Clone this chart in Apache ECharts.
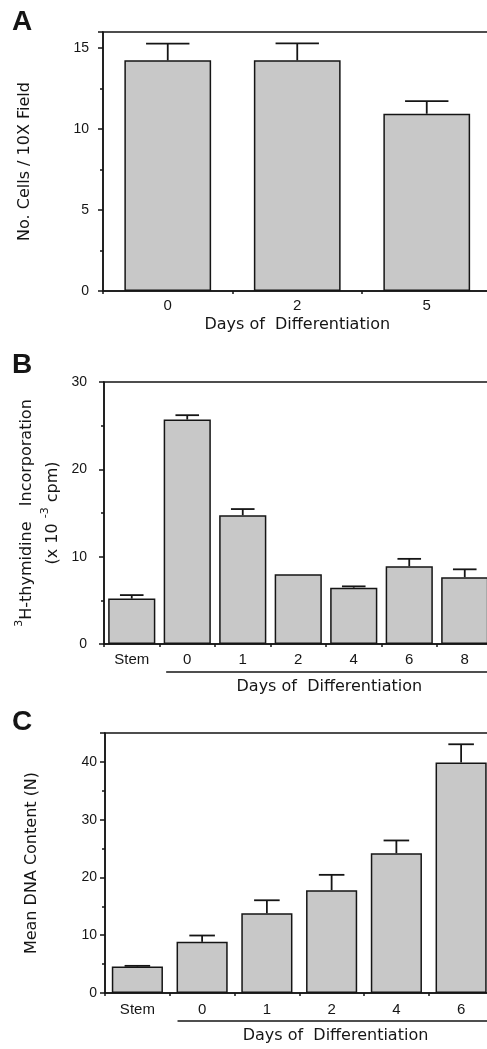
<!DOCTYPE html>
<html>
<head>
<meta charset="utf-8">
<script src="https://cdn.jsdelivr.net/npm/echarts@6/dist/echarts.min.js"></script>
<style>
html,body{margin:0;padding:0;background:#fff;}
#chart{width:487px;height:1049px;}
</style>
</head>
<body>
<div id="chart"></div>
<script>
// panel A - cell counts
var catsA = ['0', '2', '5'];
var valsA = [14.25, 14.25, 10.95];
var errA = [1.03, 1.05, 0.78];
// panel B - thymidine incorporation
var catsB = ['Stem', '0', '1', '2', '4', '6', '8'];
var valsB = [5.2, 25.7, 14.75, 8.0, 6.45, 8.9, 7.65];
var errB = [0.4, 0.5, 0.7, 0, 0.15, 0.85, 0.9];
// panel C - DNA content
var catsC = ['Stem', '0', '1', '2', '4', '6'];
var valsC = [4.6, 8.85, 13.8, 17.8, 24.2, 39.9];
var errC = [0.1, 1.1, 2.25, 2.65, 2.2, 3.15];

var ink = '#151515';
var fill = '#c8c8c8';
var tickFont = 'Liberation Sans';
var wordFont = 'DejaVu Sans';

var grids = [
  {left: 103, top: 32, width: 388.5, height: 259},
  {left: 104, top: 382, width: 388.5, height: 262},
  {left: 105, top: 733, width: 388.5, height: 260}
];
var barFrac = [0.67, 0.85, 0.79];

function xAx(idx, cats, margin) {
  return {
    type: 'category', gridIndex: idx, data: cats,
    axisLine: {lineStyle: {color: ink, width: 1.5}},
    axisTick: {show: true, length: 3, lineStyle: {color: ink, width: 1.5}},
    axisLabel: {color: ink, fontSize: 15, fontFamily: tickFont, margin: margin}
  };
}
function yAx(idx, max, interval, margin, name, nameGap) {
  return {
    type: 'value', gridIndex: idx, min: 0, max: max, interval: interval,
    name: name, nameLocation: 'middle', nameRotate: 90, nameGap: nameGap,
    nameTextStyle: {color: ink, fontSize: 16, fontFamily: wordFont},
    splitLine: {show: false},
    axisLine: {show: true, lineStyle: {color: ink, width: 1.5}},
    axisTick: {show: true, length: 5, lineStyle: {color: ink, width: 1.5}},
    minorTick: {show: true, splitNumber: 2, length: 3, lineStyle: {color: ink, width: 1.5}},
    axisLabel: {color: ink, fontSize: 14, fontFamily: tickFont, margin: margin, showMaxLabel: max % interval === 0}
  };
}
function bars(idx, vals) {
  return {
    type: 'bar', xAxisIndex: idx, yAxisIndex: idx, data: vals,
    barWidth: (barFrac[idx] * 100) + '%',
    itemStyle: {color: fill, borderColor: ink, borderWidth: 1.5},
    silent: true
  };
}
function errBars(idx, vals, errs) {
  var frac = barFrac[idx];
  return {
    type: 'custom', xAxisIndex: idx, yAxisIndex: idx, z: 5,
    data: vals.map(function (v, i) { return [i, v, errs[i]]; }),
    encode: {x: 0, y: 1},
    renderItem: function (params, api) {
      var i = api.value(0), v = api.value(1), e = api.value(2);
      if (!e) return null;
      var p0 = api.coord([i, v]);
      var p1 = api.coord([i, v + e]);
      var half = api.size([1, 0])[0] * frac * 0.25;
      var st = {stroke: ink, lineWidth: 1.8};
      return {
        type: 'group',
        children: [
          {type: 'line', shape: {x1: p0[0], y1: p0[1], x2: p1[0], y2: p1[1]}, style: st},
          {type: 'line', shape: {x1: p1[0] - half, y1: p1[1], x2: p1[0] + half, y2: p1[1]}, style: st}
        ]
      };
    }
  };
}
function letter(t, top) {
  return {text: t, left: 12, top: top, padding: 0,
    textStyle: {fontSize: 28, fontWeight: 'bold', color: ink, fontFamily: 'Liberation Sans'}};
}

var myChart = echarts.init(document.getElementById('chart'));
var yA = yAx(0, 16, 5, 14, 'No. Cells / 10X Field', 70);
var yB = yAx(1, 30, 10, 17, '{s|3}{t|H-thymidine   Incorporation}\n{t|(x 10 }{s|-3}{t| cpm)}', 35);
yB.nameTextStyle.rich = {
  t: {fontSize: 16, fontFamily: wordFont, color: ink, lineHeight: 26},
  s: {fontSize: 11, fontFamily: wordFont, color: ink, lineHeight: 26, verticalAlign: 'top'}
};
var yC = yAx(2, 45, 10, 8, 'Mean DNA Content (N)', 65);
var xA = xAx(0, catsA, 7);
xA.name = 'Days of  Differentiation';
xA.nameLocation = 'middle';
xA.nameGap = 26;
xA.nameTextStyle = {color: ink, fontSize: 16, fontFamily: wordFont};

var option = {
  backgroundColor: '#fff',
  animation: false,
  title: [letter('A', 8), letter('B', 351), letter('C', 708)],
  grid: grids.map(function (g) {
    return Object.assign({show: true, borderColor: ink, borderWidth: 1.5, containLabel: false, outerBoundsMode: 'none'}, g);
  }),
  xAxis: [xA, xAx(1, catsB, 8), xAx(2, catsC, 9)],
  yAxis: [yA, yB, yC],
  series: [
    bars(0, valsA), errBars(0, valsA, errA),
    bars(1, valsB), errBars(1, valsB, errB),
    bars(2, valsC), errBars(2, valsC, errC)
  ]
};
myChart.setOption(option);

// underline + "Days of Differentiation" under the day categories of B and C
var extra = [];
[1, 2].forEach(function (gi) {
  var band = myChart.convertToPixel({gridIndex: gi}, [2, 0])[0] - myChart.convertToPixel({gridIndex: gi}, [1, 0])[0];
  var p = myChart.convertToPixel({gridIndex: gi}, [1, 0]);
  var x0 = p[0] - band * 0.38;
  var x1 = grids[gi].left + grids[gi].width;
  var y = p[1] + 28;
  extra.push({type: 'line', shape: {x1: x0, y1: y, x2: x1, y2: y}, style: {stroke: ink, lineWidth: 1.5}});
  extra.push({type: 'text', x: (x0 + x1) / 2, y: y + 15,
    style: {text: 'Days of  Differentiation', align: 'center', verticalAlign: 'middle',
      fontSize: 16, fontFamily: wordFont, fill: ink}});
});
myChart.setOption({graphic: extra});
</script>
</body>
</html>
